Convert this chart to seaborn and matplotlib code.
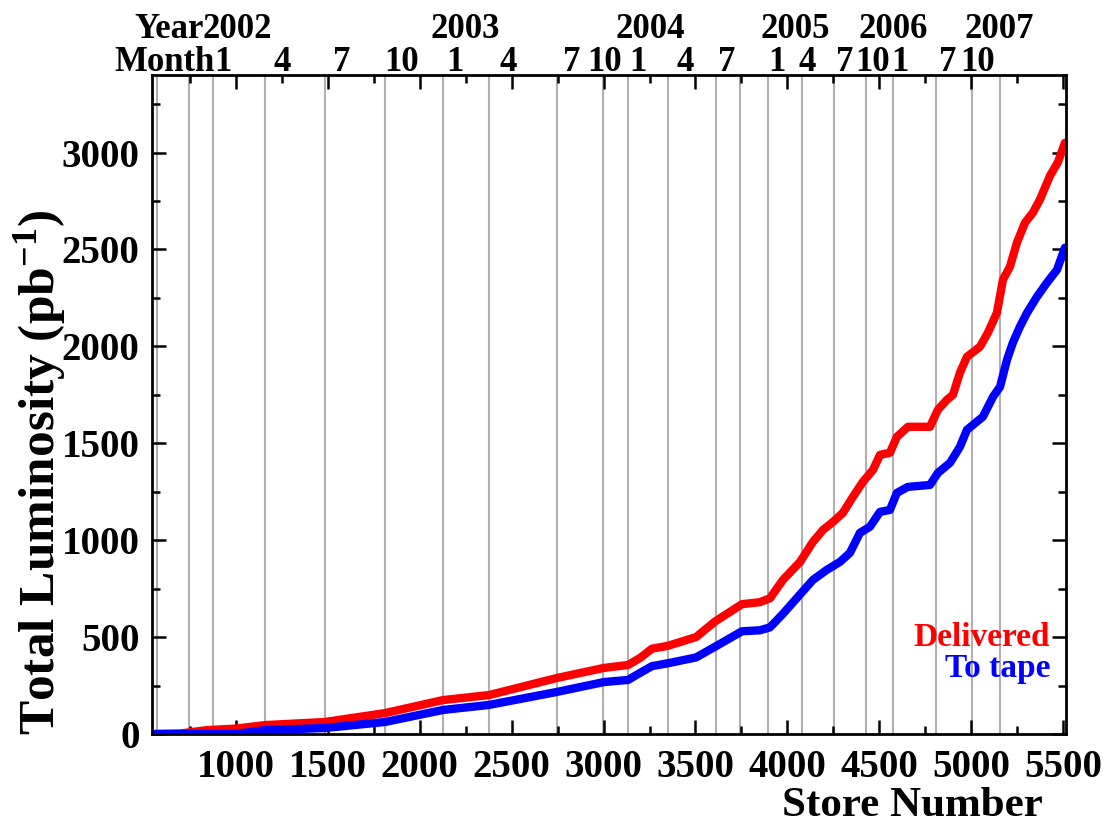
import numpy as np
import pandas as pd
import matplotlib
matplotlib.use('Agg')
import matplotlib.pyplot as plt
import seaborn as sns
from matplotlib.ticker import MultipleLocator
from matplotlib.transforms import blended_transform_factory

# integrated luminosity (pb^-1) vs store number
delivered_store = [560, 700, 842, 1000, 1158, 1484, 1811, 2126, 2377, 2746, 3002, 3133,
                   3198, 3263, 3350, 3503, 3606, 3753, 3850, 3905, 3976, 4069, 4139,
                   4194, 4248, 4302, 4357, 4411, 4466, 4504, 4558, 4596, 4656, 4776,
                   4819, 4868, 4901, 4939, 4977, 5048, 5091, 5140, 5173, 5211, 5249,
                   5293, 5336, 5374, 5429, 5472, 5510]
delivered_lumi = [0, 3, 20, 28, 46, 62, 108, 175, 201, 289, 341, 356,
                  392, 440, 455, 500, 580, 670, 680, 700, 795, 888, 991,
                  1053, 1094, 1141, 1224, 1301, 1363, 1440, 1451, 1533, 1585, 1585,
                  1673, 1724, 1750, 1864, 1946, 1998, 2070, 2173, 2344, 2411, 2535,
                  2638, 2690, 2757, 2880, 2950, 3050]

tape_store = [560, 1000, 1038, 1158, 1484, 1811, 2126, 2377, 2746, 3002, 3133, 3198,
              3263, 3350, 3503, 3606, 3753, 3850, 3905, 3976, 4069, 4139, 4215,
              4286, 4340, 4395, 4449, 4504, 4558, 4596, 4656, 4776, 4819, 4885,
              4939, 4977, 5064, 5119, 5157, 5195, 5227, 5265, 5304, 5358, 5412,
              5467, 5510]
tape_lumi = [0, 0, 5, 20, 31, 62, 124, 150, 217, 268, 279, 315,
             350, 365, 395, 450, 530, 535, 550, 620, 720, 795, 847,
             888, 934, 1038, 1069, 1146, 1156, 1244, 1275, 1285, 1347, 1399,
             1482, 1569, 1637, 1740, 1791, 1931, 2019, 2101, 2173, 2256, 2328,
             2395, 2509]

# vertical month lines (store number)
month_lines = [570, 744, 875, 1158, 1484, 1811, 2126, 2377, 2746, 2997, 3133, 3350,
               3612, 3742, 3894, 4079, 4254, 4428, 4575, 4809, 5004, 5157]

# labels on top
month_labels = ['1', '4', '7', '10', '1', '4', '7', '10', '1', '4', '7',
                '1', '4', '7', '10', '1', '7', '10']
month_pos = [929, 1250, 1577, 1903, 2192, 2480, 2828, 3008, 3187, 3443, 3671,
             3943, 4107, 4313, 4466, 4613, 4874, 5037]
year_labels = ['2002', '2003', '2004', '2005', '2006', '2007']
year_pos = [1005, 2246, 3252, 4041, 4575, 5151]

sns.set_style('ticks')
plt.rcParams['font.family'] = ['Liberation Serif', 'DejaVu Serif']
plt.rcParams['font.weight'] = 'bold'
plt.rcParams['mathtext.default'] = 'regular'
plt.rcParams['text.color'] = 'black'
plt.rcParams['xtick.color'] = 'black'
plt.rcParams['ytick.color'] = 'black'

fig = plt.figure(figsize=(11.05, 8.26), dpi=100)
ax = fig.add_axes([152 / 1105, 1 - 734 / 826, 914 / 1105, 659 / 826])

for s in month_lines:
    ax.axvline(s, color='#b0b0b0', lw=1.5, zorder=0)

df_del = pd.DataFrame({'store': delivered_store, 'lumi': delivered_lumi})
df_tape = pd.DataFrame({'store': tape_store, 'lumi': tape_lumi})
sns.lineplot(data=df_del, x='store', y='lumi', color='#ff0000', lw=6, ax=ax)
sns.lineplot(data=df_tape, x='store', y='lumi', color='#0000ff', lw=6, ax=ax)

ax.set_xlim(543, 5516)
ax.set_ylim(0, 3400)
ax.xaxis.set_minor_locator(MultipleLocator(250))
ax.yaxis.set_major_locator(MultipleLocator(500))
ax.yaxis.set_minor_locator(MultipleLocator(250))
ax.set_xticks([1000, 1500, 2000, 2500, 3000, 3500, 4000, 4500, 5000, 5500])
ax.tick_params(which='both', direction='in', top=True, right=True, width=1.8, colors='black')
ax.tick_params(which='major', length=10, labelsize=28)
ax.tick_params(axis='x', which='major', pad=11)
ax.tick_params(axis='y', which='major', pad=9)
ax.tick_params(which='minor', length=6)
for sp in ax.spines.values():
    sp.set_linewidth(2)
    sp.set_color('black')
ax.set_xlabel('')
ax.set_ylabel('')

# year / month rows above the plot
trans = blended_transform_factory(ax.transData, ax.transAxes)
for lab, p in zip(month_labels, month_pos):
    ax.text(p, 1.006, lab, transform=trans, ha='center', va='baseline', fontsize=25, fontweight='bold')
for lab, p in zip(year_labels, year_pos):
    ax.text(p, 1.056, lab, transform=trans, ha='center', va='baseline', fontsize=25, fontweight='bold')
ax.text(826, 1.056, 'Year', transform=trans, ha='right', va='baseline', fontsize=25, fontweight='bold')
ax.text(885, 1.006, 'Month', transform=trans, ha='right', va='baseline', fontsize=25, fontweight='bold')

# legend as coloured text
ax.text(0.9825, 0.1335, 'Delivered', transform=ax.transAxes, ha='right', va='baseline',
        color='#ff0000', fontsize=24, fontweight='bold')
ax.text(0.9825, 0.0865, 'To tape', transform=ax.transAxes, ha='right', va='baseline',
        color='#0000ff', fontsize=24, fontweight='bold')

fig.text(1043 / 1105, 1 - 816 / 826, 'Store Number', ha='right', va='baseline',
         fontsize=31, fontweight='bold')
fig.text(40 / 1105, 1 - 735 / 826, 'Total Luminosity (pb$^{-1}$)', rotation=90,
         ha='center', va='bottom', fontsize=37, fontweight='bold')

fig.savefig('out.png', dpi=100, facecolor='white')
